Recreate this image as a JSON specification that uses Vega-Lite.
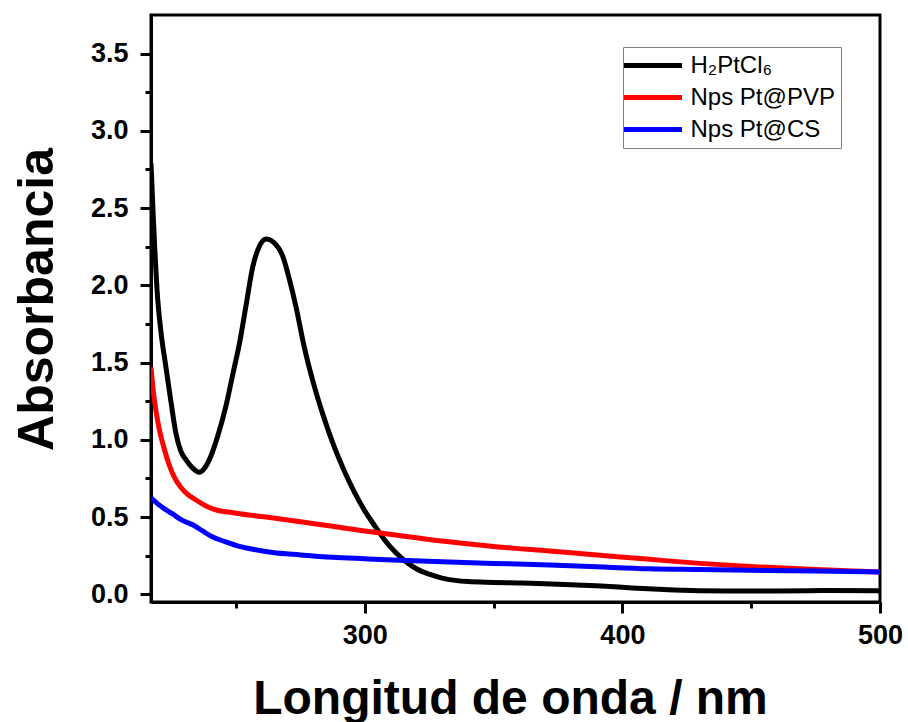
{
  "$schema": "https://vega.github.io/schema/vega-lite/v6.json",
  "autosize": {"type": "none"},
  "padding": {"left": 151, "top": 15, "right": 28, "bottom": 120},
  "width": 729,
  "height": 587,
  "background": "white",
  "config": {
    "view": {"stroke": "black", "strokeWidth": 3},
    "axis": {
      "domainColor": "black", "domainWidth": 3, "tickColor": "black", "tickWidth": 3,
      "labelColor": "black", "labelFont": "Liberation Sans", "labelFontWeight": "bold", "labelFontSize": 27,
      "titleColor": "black", "titleFont": "Liberation Sans", "titleFontWeight": "bold", "grid": false
    }
  },
  "data": {"values": [
    {"wl": 217, "abs": 2.79, "s": "H₂PtCl₆"},
    {"wl": 218, "abs": 2.40, "s": "H₂PtCl₆"},
    {"wl": 219.6, "abs": 1.91, "s": "H₂PtCl₆"},
    {"wl": 221, "abs": 1.68, "s": "H₂PtCl₆"},
    {"wl": 222.8, "abs": 1.47, "s": "H₂PtCl₆"},
    {"wl": 224.8, "abs": 1.24, "s": "H₂PtCl₆"},
    {"wl": 226.7, "abs": 1.04, "s": "H₂PtCl₆"},
    {"wl": 228.5, "abs": 0.93, "s": "H₂PtCl₆"},
    {"wl": 230.6, "abs": 0.87, "s": "H₂PtCl₆"},
    {"wl": 233, "abs": 0.82, "s": "H₂PtCl₆"},
    {"wl": 235.8, "abs": 0.79, "s": "H₂PtCl₆"},
    {"wl": 237.5, "abs": 0.81, "s": "H₂PtCl₆"},
    {"wl": 239.6, "abs": 0.87, "s": "H₂PtCl₆"},
    {"wl": 243, "abs": 1.03, "s": "H₂PtCl₆"},
    {"wl": 246.1, "abs": 1.22, "s": "H₂PtCl₆"},
    {"wl": 248.7, "abs": 1.42, "s": "H₂PtCl₆"},
    {"wl": 251.3, "abs": 1.62, "s": "H₂PtCl₆"},
    {"wl": 254, "abs": 1.88, "s": "H₂PtCl₆"},
    {"wl": 256.5, "abs": 2.12, "s": "H₂PtCl₆"},
    {"wl": 259, "abs": 2.25, "s": "H₂PtCl₆"},
    {"wl": 261.7, "abs": 2.30, "s": "H₂PtCl₆"},
    {"wl": 264.5, "abs": 2.28, "s": "H₂PtCl₆"},
    {"wl": 268.1, "abs": 2.19, "s": "H₂PtCl₆"},
    {"wl": 270.7, "abs": 2.04, "s": "H₂PtCl₆"},
    {"wl": 273.3, "abs": 1.86, "s": "H₂PtCl₆"},
    {"wl": 276.5, "abs": 1.60, "s": "H₂PtCl₆"},
    {"wl": 280, "abs": 1.37, "s": "H₂PtCl₆"},
    {"wl": 284, "abs": 1.15, "s": "H₂PtCl₆"},
    {"wl": 288, "abs": 0.96, "s": "H₂PtCl₆"},
    {"wl": 292, "abs": 0.80, "s": "H₂PtCl₆"},
    {"wl": 296, "abs": 0.66, "s": "H₂PtCl₆"},
    {"wl": 300, "abs": 0.54, "s": "H₂PtCl₆"},
    {"wl": 304, "abs": 0.44, "s": "H₂PtCl₆"},
    {"wl": 308, "abs": 0.345, "s": "H₂PtCl₆"},
    {"wl": 312, "abs": 0.27, "s": "H₂PtCl₆"},
    {"wl": 316, "abs": 0.21, "s": "H₂PtCl₆"},
    {"wl": 320, "abs": 0.165, "s": "H₂PtCl₆"},
    {"wl": 325, "abs": 0.13, "s": "H₂PtCl₆"},
    {"wl": 330, "abs": 0.105, "s": "H₂PtCl₆"},
    {"wl": 335, "abs": 0.09, "s": "H₂PtCl₆"},
    {"wl": 340, "abs": 0.082, "s": "H₂PtCl₆"},
    {"wl": 350, "abs": 0.077, "s": "H₂PtCl₆"},
    {"wl": 360, "abs": 0.073, "s": "H₂PtCl₆"},
    {"wl": 370, "abs": 0.068, "s": "H₂PtCl₆"},
    {"wl": 380, "abs": 0.062, "s": "H₂PtCl₆"},
    {"wl": 390, "abs": 0.055, "s": "H₂PtCl₆"},
    {"wl": 400, "abs": 0.045, "s": "H₂PtCl₆"},
    {"wl": 410, "abs": 0.035, "s": "H₂PtCl₆"},
    {"wl": 420, "abs": 0.028, "s": "H₂PtCl₆"},
    {"wl": 440, "abs": 0.022, "s": "H₂PtCl₆"},
    {"wl": 460, "abs": 0.022, "s": "H₂PtCl₆"},
    {"wl": 480, "abs": 0.024, "s": "H₂PtCl₆"},
    {"wl": 500, "abs": 0.022, "s": "H₂PtCl₆"},
    {"wl": 217, "abs": 1.47, "s": "Nps Pt@PVP"},
    {"wl": 218, "abs": 1.30, "s": "Nps Pt@PVP"},
    {"wl": 219, "abs": 1.18, "s": "Nps Pt@PVP"},
    {"wl": 220.2, "abs": 1.07, "s": "Nps Pt@PVP"},
    {"wl": 222, "abs": 0.95, "s": "Nps Pt@PVP"},
    {"wl": 224, "abs": 0.84, "s": "Nps Pt@PVP"},
    {"wl": 226, "abs": 0.76, "s": "Nps Pt@PVP"},
    {"wl": 228.7, "abs": 0.69, "s": "Nps Pt@PVP"},
    {"wl": 231, "abs": 0.65, "s": "Nps Pt@PVP"},
    {"wl": 234.5, "abs": 0.61, "s": "Nps Pt@PVP"},
    {"wl": 238, "abs": 0.575, "s": "Nps Pt@PVP"},
    {"wl": 241.6, "abs": 0.55, "s": "Nps Pt@PVP"},
    {"wl": 250, "abs": 0.525, "s": "Nps Pt@PVP"},
    {"wl": 261.7, "abs": 0.50, "s": "Nps Pt@PVP"},
    {"wl": 275, "abs": 0.47, "s": "Nps Pt@PVP"},
    {"wl": 287.5, "abs": 0.44, "s": "Nps Pt@PVP"},
    {"wl": 300, "abs": 0.41, "s": "Nps Pt@PVP"},
    {"wl": 313.4, "abs": 0.38, "s": "Nps Pt@PVP"},
    {"wl": 330, "abs": 0.345, "s": "Nps Pt@PVP"},
    {"wl": 350, "abs": 0.31, "s": "Nps Pt@PVP"},
    {"wl": 371.8, "abs": 0.28, "s": "Nps Pt@PVP"},
    {"wl": 390, "abs": 0.255, "s": "Nps Pt@PVP"},
    {"wl": 410.6, "abs": 0.226, "s": "Nps Pt@PVP"},
    {"wl": 430, "abs": 0.20, "s": "Nps Pt@PVP"},
    {"wl": 449.4, "abs": 0.18, "s": "Nps Pt@PVP"},
    {"wl": 475, "abs": 0.16, "s": "Nps Pt@PVP"},
    {"wl": 500, "abs": 0.145, "s": "Nps Pt@PVP"},
    {"wl": 217, "abs": 0.625, "s": "Nps Pt@CS"},
    {"wl": 220, "abs": 0.58, "s": "Nps Pt@CS"},
    {"wl": 225.4, "abs": 0.52, "s": "Nps Pt@CS"},
    {"wl": 229, "abs": 0.48, "s": "Nps Pt@CS"},
    {"wl": 233.2, "abs": 0.45, "s": "Nps Pt@CS"},
    {"wl": 237, "abs": 0.41, "s": "Nps Pt@CS"},
    {"wl": 241, "abs": 0.37, "s": "Nps Pt@CS"},
    {"wl": 245, "abs": 0.345, "s": "Nps Pt@CS"},
    {"wl": 251.3, "abs": 0.31, "s": "Nps Pt@CS"},
    {"wl": 257, "abs": 0.29, "s": "Nps Pt@CS"},
    {"wl": 264.2, "abs": 0.27, "s": "Nps Pt@CS"},
    {"wl": 275, "abs": 0.255, "s": "Nps Pt@CS"},
    {"wl": 287.5, "abs": 0.24, "s": "Nps Pt@CS"},
    {"wl": 300, "abs": 0.23, "s": "Nps Pt@CS"},
    {"wl": 313.4, "abs": 0.22, "s": "Nps Pt@CS"},
    {"wl": 330, "abs": 0.21, "s": "Nps Pt@CS"},
    {"wl": 350, "abs": 0.20, "s": "Nps Pt@CS"},
    {"wl": 371.8, "abs": 0.19, "s": "Nps Pt@CS"},
    {"wl": 390, "abs": 0.178, "s": "Nps Pt@CS"},
    {"wl": 410.6, "abs": 0.165, "s": "Nps Pt@CS"},
    {"wl": 430, "abs": 0.16, "s": "Nps Pt@CS"},
    {"wl": 449.4, "abs": 0.155, "s": "Nps Pt@CS"},
    {"wl": 475, "abs": 0.15, "s": "Nps Pt@CS"},
    {"wl": 500, "abs": 0.145, "s": "Nps Pt@CS"}
  ]},
  "mark": {"type": "line", "strokeWidth": 5, "interpolate": "monotone", "clip": true},
  "encoding": {
    "x": {
      "field": "wl", "type": "quantitative",
      "scale": {"domain": [217, 500], "nice": false, "zero": false},
      "axis": {
        "title": "Longitud de onda / nm", "titleFontSize": 48,
        "titleX": 359, "titleY": 111, "titleBaseline": "alphabetic", "titleAnchor": "middle",
        "values": [250, 300, 350, 400, 450, 500], "format": "d",
        "labelExpr": "datum.value % 100 === 0 ? datum.label : ''",
        "tickSize": {"condition": {"test": "datum.value % 100 !== 0", "value": 6}, "value": 11},
        "labelPadding": 9, "labelFlush": false, "labelOverlap": false
      }
    },
    "y": {
      "field": "abs", "type": "quantitative",
      "scale": {"domain": [-0.05, 3.75], "nice": false, "zero": false},
      "axis": {
        "title": "Absorbancia", "titleFontSize": 50,
        "titleX": -99, "titleY": 284, "titleBaseline": "alphabetic", "titleAngle": -90, "titleAnchor": "middle",
        "values": [0, 0.25, 0.5, 0.75, 1, 1.25, 1.5, 1.75, 2, 2.25, 2.5, 2.75, 3, 3.25, 3.5],
        "format": ".1f",
        "labelExpr": "datum.value % 0.5 === 0 ? datum.label : ''",
        "tickSize": {"condition": {"test": "datum.value % 0.5 !== 0", "value": 6}, "value": 11},
        "labelPadding": 12, "labelOverlap": false
      }
    },
    "color": {
      "field": "s", "type": "nominal", "sort": ["H₂PtCl₆", "Nps Pt@PVP", "Nps Pt@CS"],
      "scale": {"domain": ["H₂PtCl₆", "Nps Pt@PVP", "Nps Pt@CS"], "range": ["#000000", "#ff0000", "#0000ff"]},
      "legend": {
        "title": null, "orient": "none", "legendX": 472, "legendY": 32,
        "strokeColor": "#7f7f7f", "fillColor": "white", "padding": 6, "rowPadding": 7,
        "symbolType": "M-2.9,0H2.9", "symbolSize": 400, "symbolStrokeWidth": 5, "symbolOffset": 11.5,
        "labelFont": "Liberation Sans", "labelFontSize": 24, "labelColor": "black", "labelOffset": 25, "labelLimit": 300
      }
    }
  }
}
